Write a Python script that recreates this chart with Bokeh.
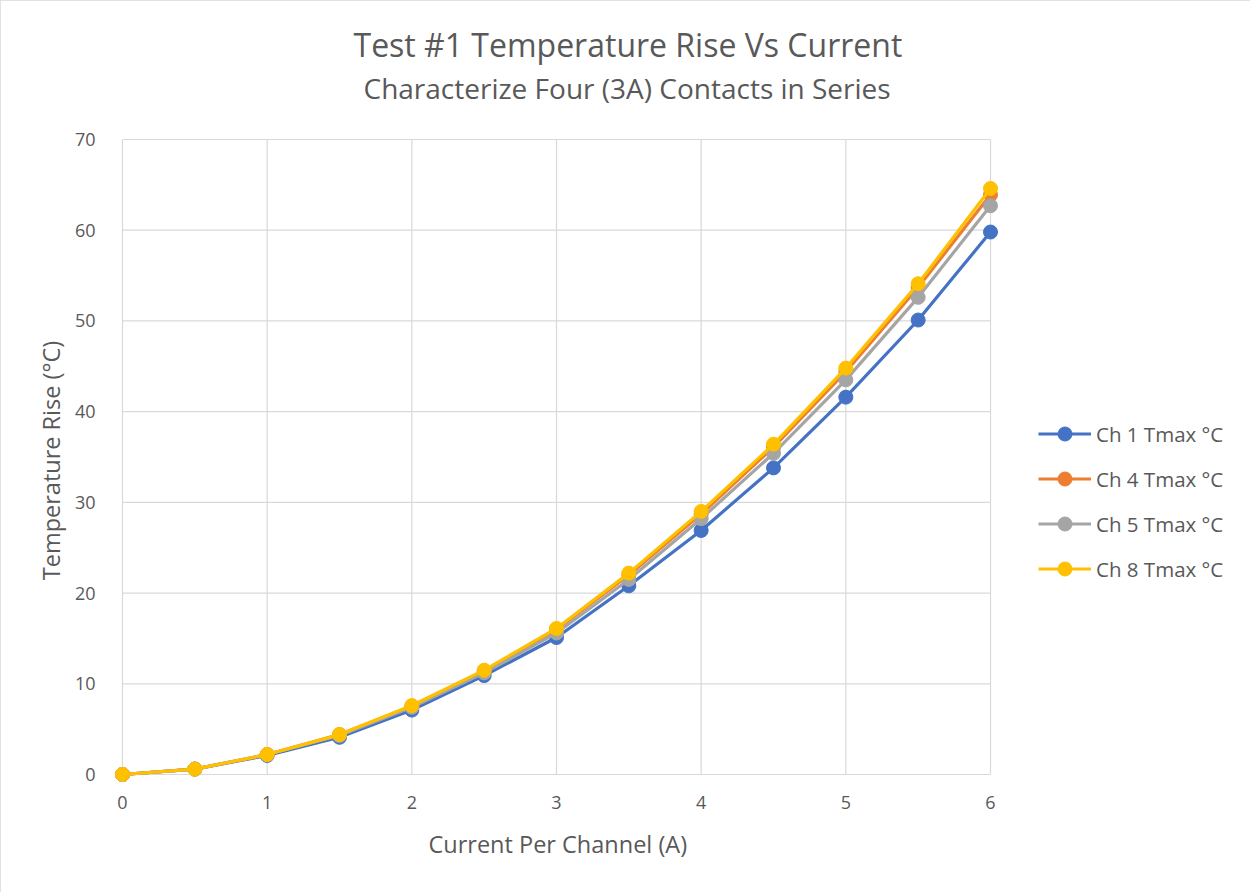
from bokeh.plotting import figure
from bokeh.models import Range1d, FixedTicker, Legend, LegendItem, Title
from bokeh.embed import file_html
from bokeh.resources import INLINE

current = [0, 0.5, 1, 1.5, 2, 2.5, 3, 3.5, 4, 4.5, 5, 5.5, 6]
ch1 = [0.0, 0.6, 2.1, 4.1, 7.1, 10.9, 15.1, 20.8, 26.9, 33.8, 41.6, 50.1, 59.8]
ch4 = [0.0, 0.6, 2.2, 4.4, 7.5, 11.4, 16.0, 22.0, 28.7, 36.1, 44.4, 53.7, 63.9]
ch5 = [0.0, 0.6, 2.2, 4.3, 7.4, 11.2, 15.6, 21.5, 28.2, 35.4, 43.5, 52.6, 62.7]
ch8 = [0.0, 0.6, 2.2, 4.4, 7.6, 11.5, 16.1, 22.2, 29.0, 36.4, 44.8, 54.1, 64.6]
series_names = ["Ch 1 Tmax °C", "Ch 4 Tmax °C", "Ch 5 Tmax °C", "Ch 8 Tmax °C"]
colors = ["#4472C4", "#ED7D31", "#A5A5A5", "#FFC000"]
x_ticks = [0, 1, 2, 3, 4, 5, 6]
y_ticks = [0, 10, 20, 30, 40, 50, 60, 70]

FONT = "Open Sans"
TXT = "#595959"
GRID = "#D9D9D9"

# frame spans the legend area on the right; gridlines stop at the last tick
px_x = 144.67
xpad = 8 / px_x
xright = (1250 - 990) / px_x
ypad_b = 8 / 9.071
ypad_t = 1 / 9.071

p = figure(width=1250, height=892, output_backend="svg", toolbar_location=None,
           x_range=Range1d(x_ticks[0] - xpad, x_ticks[-1] + xright),
           y_range=Range1d(y_ticks[0] - ypad_b, y_ticks[-1] + ypad_t),
           min_border_left=114, min_border_right=0, min_border_top=138,
           min_border_bottom=110)
p.styles = {"outline": "1px solid #D9D9D9", "outline-offset": "-1px"}
p.outline_line_color = None
p.xgrid.visible = False
p.ygrid.visible = False

p.segment(x0=[x_ticks[0]] * len(y_ticks), x1=[x_ticks[-1]] * len(y_ticks),
          y0=y_ticks, y1=y_ticks, line_color=GRID, line_width=1.2)
p.segment(x0=x_ticks, x1=x_ticks, y0=[y_ticks[0]] * len(x_ticks),
          y1=[y_ticks[-1]] * len(x_ticks), line_color=GRID, line_width=1.2)

items = []
for name, ys, c in zip(series_names, [ch1, ch4, ch5, ch8], colors):
    l = p.line(current, ys, line_color=c, line_width=3.2)
    s = p.scatter(current, ys, size=14, fill_color=c, line_color=c)
    items.append(LegendItem(label=name, renderers=[l, s]))

for ax, ticks in ((p.xaxis, x_ticks), (p.yaxis, y_ticks)):
    ax.ticker = FixedTicker(ticks=ticks)
    ax.axis_line_color = None
    ax.major_tick_line_color = None
    ax.minor_tick_line_color = None
    ax.major_label_text_font = FONT
    ax.major_label_text_font_size = "18px"
    ax.major_label_text_color = TXT
    ax.axis_label_text_font = FONT
    ax.axis_label_text_font_size = "23.5px"
    ax.axis_label_text_color = TXT
    ax.axis_label_text_font_style = "normal"

p.yaxis.axis_label = "Temperature Rise (°C)"
p.xaxis.major_label_standoff = 7
p.yaxis.major_label_standoff = 13
p.yaxis.axis_label_standoff = 5

# x-axis title centred under the plotted area (frame also holds the legend)
xlab = Title(text="Current Per Channel (A)", align="left", offset=314,
             text_font=FONT, text_font_size="23.5px", text_color=TXT,
             text_font_style="normal", standoff=28)
p.add_layout(xlab, "below")

sub = Title(text="Characterize Four (3A) Contacts in Series", align="left",
            offset=249, text_font=FONT, text_font_size="28px", text_color=TXT,
            text_font_style="normal", standoff=63)
main = Title(text="Test #1 Temperature Rise Vs Current", align="left",
             offset=239, text_font=FONT, text_font_size="32px", text_color=TXT,
             text_font_style="normal", standoff=-60)
p.add_layout(sub, "above")
p.add_layout(main, "above")

legend = Legend(items=items, location=(924, 196),
                label_text_font=FONT, label_text_font_size="20.5px",
                label_text_color=TXT, glyph_width=53, glyph_height=35,
                label_height=20, label_standoff=5, spacing=10, padding=0,
                margin=0, border_line_color=None, background_fill_alpha=0)
p.add_layout(legend)

open("out.html", "w").write(file_html(p, INLINE))
